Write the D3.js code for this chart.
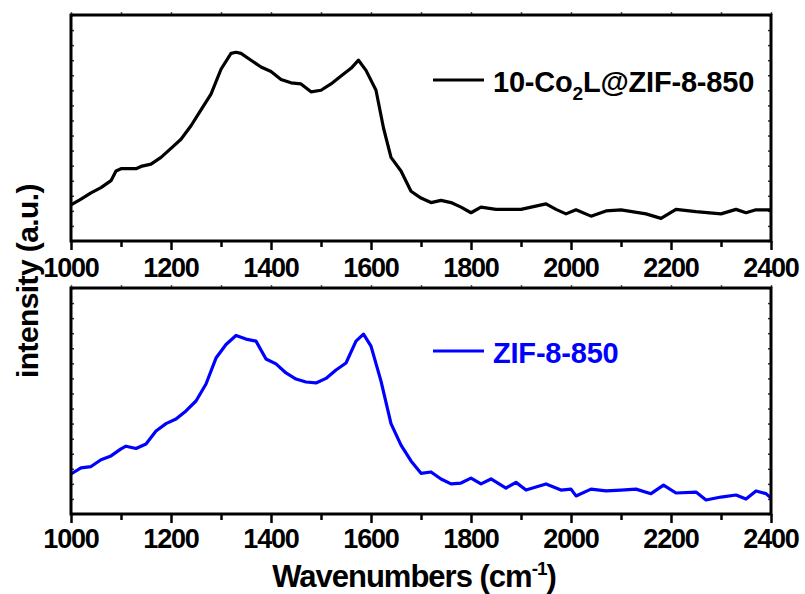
<!DOCTYPE html>
<html>
<head>
<meta charset="utf-8">
<script src="https://cdn.jsdelivr.net/npm/d3@7"></script>
<style>
  html, body { margin: 0; padding: 0; background: #fff; }
  svg text { font-family: "Liberation Sans", Arial, sans-serif; font-weight: bold; }
</style>
</head>
<body>
<svg id="chart" width="805" height="594"></svg>
<script>
// ---- data ----
const xTicks = [1000, 1200, 1400, 1600, 1800, 2000, 2200, 2400];
const seriesNames = ["10-Co2L@ZIF-8-850", "ZIF-8-850"];
const seriesColors = ["#000000", "#0000ff"];

const topWavenumber = [1000,1020,1040,1060,1080,1090,1100,1130,1140,1160,1180,1200,1220,1240,1260,1280,1300,1320,1330,1340,1360,1380,1400,1420,1440,1460,1480,1500,1520,1540,1560,1575,1590,1610,1625,1640,1660,1680,1700,1720,1740,1760,1780,1800,1820,1850,1900,1950,1970,1990,2010,2040,2070,2100,2150,2180,2210,2250,2300,2330,2350,2370,2400];
const topIntensity = [16,18.5,21.3,23.6,26.7,31,32,32,33,34,37,41,45,51,58,65,76,83,83.5,83,80,77,75,71.5,70,69.5,66,66.7,69.5,73,76.4,80,75.5,66.7,50,37,31,22,19,17,18,17,15,12.5,15,14,14,16.4,14,12,13.8,11,13.3,13.8,12,10,14,13,12,14,12.5,13.8,13.8];

const botWavenumber = [1000,1020,1040,1060,1080,1100,1110,1130,1150,1170,1190,1210,1230,1250,1270,1290,1310,1330,1350,1370,1390,1410,1430,1450,1470,1490,1510,1530,1550,1570,1585,1600,1620,1640,1660,1680,1700,1720,1740,1760,1780,1800,1820,1840,1870,1890,1910,1950,1980,2000,2010,2040,2070,2100,2130,2160,2185,2210,2250,2270,2300,2330,2350,2370,2390,2400];
const botIntensity = [17.7,20.4,21,24,25.7,28.8,30,29,31,36.7,40,42,45.6,50,57.5,69,75,79,77.4,76.5,68.6,66.4,62.4,59.7,58.4,58,60,63.7,66.8,76.5,79.6,74.3,58.8,40,30.5,23.5,18,18.6,15.5,13.3,13.7,15.9,13.3,15.5,11.5,14,10.6,13.3,10.6,11,8,11,10.2,10.6,11,9,12.8,9.3,9.7,6.2,7.5,8.4,6.6,10.2,9,7];

// ---- layout ----
const svg = d3.select("#chart");
const left = 71, right = 771;
const panels = [
  { top: 15, bottom: 241, x: topWavenumber, y: topIntensity, color: seriesColors[0], name: seriesNames[0], labelBase: 277, legY: 80 },
  { top: 288, bottom: 514, x: botWavenumber, y: botIntensity, color: seriesColors[1], name: seriesNames[1], labelBase: 548, legY: 351 }
];

const x = d3.scaleLinear().domain([1000, 2400]).range([left, right]);
const minorX = d3.range(1000, 2401, 100);
const yTickVals = d3.range(0, 100.01, 100 / 15);

panels.forEach((p, i) => {
  const y = d3.scaleLinear().domain([0, 100]).range([p.bottom, p.top]);
  const g = svg.append("g");

  // bottom axis ticks (major longer, minor shorter)
  g.append("g").attr("transform", `translate(0,${p.bottom})`)
    .call(d3.axisBottom(x).tickValues(minorX).tickSize(0).tickFormat(""))
    .call(a => a.select(".domain").remove())
    .call(a => a.selectAll(".tick line")
      .attr("y2", d => (d % 200 === 0 ? 9 : 6))
      .attr("stroke", "#000").attr("stroke-width", 2.5));

  // tick labels
  g.selectAll("text.tl").data(xTicks).enter().append("text")
    .attr("class", "tl")
    .attr("x", d => x(d))
    .attr("y", p.labelBase)
    .attr("text-anchor", "middle")
    .attr("font-size", 27)
    .attr("letter-spacing", -1.2)
    .attr("fill", "#000")
    .text(d => d);

  // top axis small ticks
  g.append("g").attr("transform", `translate(0,${p.top})`)
    .call(d3.axisTop(x).tickValues(minorX).tickSize(3).tickFormat(""))
    .call(a => a.select(".domain").remove())
    .call(a => a.selectAll(".tick line").attr("stroke", "#555").attr("stroke-width", 1.5));

  // left & right small inward ticks
  g.append("g").attr("transform", `translate(${left},0)`)
    .call(d3.axisRight(y).tickValues(yTickVals).tickSize(3).tickFormat(""))
    .call(a => a.select(".domain").remove())
    .call(a => a.selectAll(".tick line").attr("stroke", "#333").attr("stroke-width", 1.5));
  g.append("g").attr("transform", `translate(${right},0)`)
    .call(d3.axisLeft(y).tickValues(yTickVals).tickSize(3).tickFormat(""))
    .call(a => a.select(".domain").remove())
    .call(a => a.selectAll(".tick line").attr("stroke", "#333").attr("stroke-width", 1.5));

  // data line
  const pts = p.x.map((w, k) => [w, p.y[k]]);
  g.append("path")
    .datum(pts)
    .attr("fill", "none")
    .attr("stroke", p.color)
    .attr("stroke-width", 3.2)
    .attr("stroke-linejoin", "round")
    .attr("d", d3.line().x(d => x(d[0])).y(d => y(d[1])));

  // frame
  g.append("rect")
    .attr("x", left).attr("y", p.top)
    .attr("width", right - left).attr("height", p.bottom - p.top)
    .attr("fill", "none").attr("stroke", "#000").attr("stroke-width", 3);

  // legend
  g.append("line")
    .attr("x1", 433).attr("x2", 484)
    .attr("y1", p.legY).attr("y2", p.legY)
    .attr("stroke", p.color).attr("stroke-width", 3);
  const lt = g.append("text")
    .attr("x", 493).attr("y", p.legY + 12)
    .attr("font-size", 29)
    .attr("letter-spacing", -0.2)
    .attr("fill", p.color);
  if (i === 0) {
    lt.append("tspan").text("10-Co");
    lt.append("tspan").attr("font-size", 19).attr("dy", 8).text("2");
    lt.append("tspan").attr("dy", -8).text("L@ZIF-8-850");
  } else {
    lt.text(p.name);
  }
});

// axis titles
svg.append("text")
  .attr("transform", "translate(38,281) rotate(-90)")
  .attr("text-anchor", "middle")
  .attr("font-size", 30)
  .attr("letter-spacing", -0.6)
  .attr("fill", "#000")
  .text("intensity (a.u.)");

const xt = svg.append("text")
  .attr("x", 414).attr("y", 587)
  .attr("text-anchor", "middle")
  .attr("font-size", 31)
  .attr("letter-spacing", -1)
  .attr("fill", "#000");
xt.append("tspan").text("Wavenumbers (cm");
xt.append("tspan").attr("font-size", 19).attr("dy", -12).text("-1");
xt.append("tspan").attr("dy", 12).text(")");
</script>
</body>
</html>
